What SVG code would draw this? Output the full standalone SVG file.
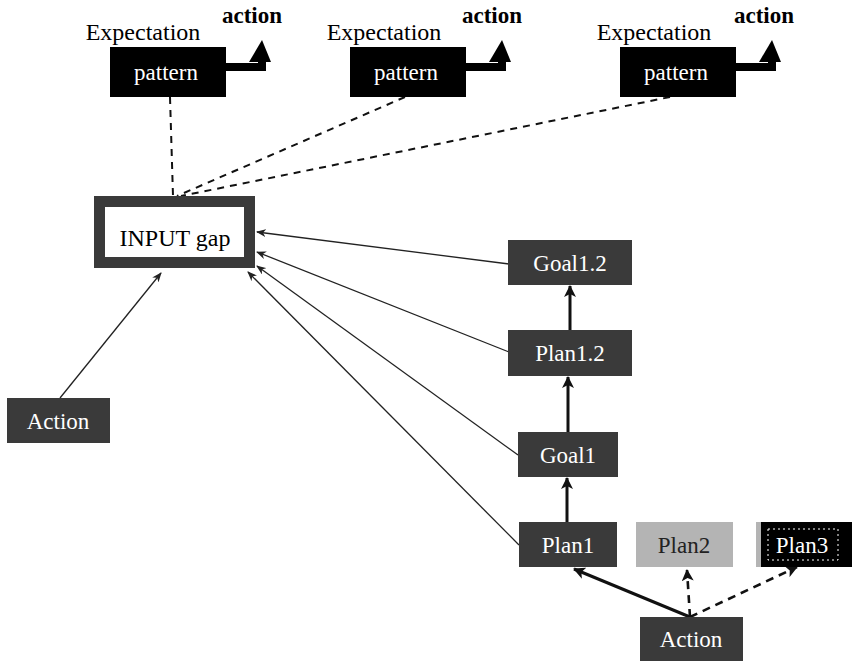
<svg xmlns="http://www.w3.org/2000/svg" width="852" height="661" viewBox="0 0 852 661">
<defs>
<style>
.t{font-family:"Liberation Serif","Times New Roman",serif;font-size:23px;text-anchor:middle}
.w{fill:#ffffff}
.d{fill:#222222}
.act{font-family:"Liberation Serif","Times New Roman",serif;font-size:23px;font-weight:bold;fill:#000;text-anchor:middle}
.exp{font-family:"Liberation Serif","Times New Roman",serif;font-size:24px;fill:#000;text-anchor:middle}
.node{fill:#3a3a3a}
.thin{stroke:#222;stroke-width:1.3;fill:none}
.thick{stroke:#111;stroke-width:3;fill:none}
.dash{stroke:#111;stroke-width:2;stroke-dasharray:7,6;fill:none}
.dashthick{stroke:#111;stroke-width:2.6;stroke-dasharray:8,6;fill:none}
</style>
<marker id="ah" markerWidth="10" markerHeight="8" refX="9" refY="4" orient="auto" markerUnits="userSpaceOnUse">
<path d="M0,0 L10,4 L0,8 L3,4 Z" fill="#222"/>
</marker>
<marker id="ahb" markerWidth="12" markerHeight="12" refX="11" refY="6" orient="auto" markerUnits="userSpaceOnUse">
<path d="M0,0 L12,6 L0,12 L3,6 Z" fill="#111"/>
</marker>
</defs>
<rect width="852" height="661" fill="#ffffff"/>

<g id="connectors">
<path class="dash" d="M170,97 L173,196"/>
<path class="dash" d="M405,97 L177,196"/>
<path class="dash" d="M670,97 L181,196"/>
<path class="thin" marker-end="url(#ah)" d="M509,264 L257,232"/>
<path class="thin" marker-end="url(#ah)" d="M509,352 L257,252"/>
<path class="thin" marker-end="url(#ah)" d="M518,455 L257,266"/>
<path class="thin" marker-end="url(#ah)" d="M519,545 L248,272"/>
<path class="thin" marker-end="url(#ah)" d="M60,398 L161,273"/>
<path class="thick" marker-end="url(#ahb)" d="M570,330 L570,286"/>
<path class="thick" marker-end="url(#ahb)" d="M568,432 L568,377"/>
<path class="thick" marker-end="url(#ahb)" d="M567,522 L567,478"/>
<path class="thick" marker-end="url(#ahb)" d="M690,617 L574,569"/>
<path class="dashthick" marker-end="url(#ahb)" d="M690,617 L687,570"/>
<path class="dashthick" marker-end="url(#ahb)" d="M690,617 L797,567"/>
</g>

<g id="exp1">
<text class="exp" x="143" y="40">Expectation</text>
<rect x="110" y="47" width="116" height="50" fill="#000"/>
<text class="t w" x="166" y="80">pattern</text>
<path d="M226,63 H258 V71 H226 Z" fill="#000"/>
<rect x="258" y="55" width="8" height="16" fill="#000"/>
<path d="M249,62 L262,40 L271,62 Z" fill="#000"/>
<text class="act" x="252" y="23">action</text>
</g>

<g id="exp2">
<text class="exp" x="384" y="40">Expectation</text>
<rect x="350" y="47" width="116" height="50" fill="#000"/>
<text class="t w" x="406" y="80">pattern</text>
<path d="M466,63 H498 V71 H466 Z" fill="#000"/>
<rect x="498" y="55" width="8" height="16" fill="#000"/>
<path d="M489,62 L502,40 L511,62 Z" fill="#000"/>
<text class="act" x="492" y="23">action</text>
</g>

<g id="exp3">
<text class="exp" x="654" y="40">Expectation</text>
<rect x="620" y="47" width="116" height="50" fill="#000"/>
<text class="t w" x="676" y="80">pattern</text>
<path d="M736,63 H768 V71 H736 Z" fill="#000"/>
<rect x="768" y="55" width="8" height="16" fill="#000"/>
<path d="M759,62 L772,40 L781,62 Z" fill="#000"/>
<text class="act" x="764" y="23">action</text>
</g>

<g id="input-gap">
<rect x="99.5" y="201.5" width="150" height="61" fill="#fff" stroke="#3a3a3a" stroke-width="11"/>
<text class="exp" x="175" y="246" fill="#222">INPUT gap</text>
</g>

<g id="goal12">
<rect class="node" x="508" y="240" width="124" height="45"/>
<text class="t w" x="570" y="271">Goal1.2</text>
</g>
<g id="plan12">
<rect class="node" x="508" y="330" width="124" height="46"/>
<text class="t w" x="570" y="361">Plan1.2</text>
</g>
<g id="goal1">
<rect class="node" x="518" y="432" width="100" height="45"/>
<text class="t w" x="568" y="463">Goal1</text>
</g>
<g id="plan1">
<rect class="node" x="519" y="522" width="98" height="45"/>
<text class="t w" x="568" y="553">Plan1</text>
</g>
<g id="plan2">
<rect x="636" y="522" width="97" height="45" fill="#b4b4b4"/>
<text class="t d" x="684" y="553">Plan2</text>
</g>
<g id="plan3">
<rect x="756" y="522" width="5" height="45" fill="#b4b4b4"/>
<rect x="761" y="522" width="91" height="45" fill="#000"/>
<rect x="768" y="529" width="70" height="31" fill="none" stroke="#fff" stroke-width="1" stroke-dasharray="2,3"/>
<text class="t w" x="802" y="553">Plan3</text>
</g>
<g id="action-bottom">
<rect class="node" x="640" y="617" width="103" height="44"/>
<text class="t w" x="691" y="647">Action</text>
</g>
<g id="action-left">
<rect class="node" x="7" y="398" width="103" height="45"/>
<text class="t w" x="58" y="429">Action</text>
</g>
</svg>
